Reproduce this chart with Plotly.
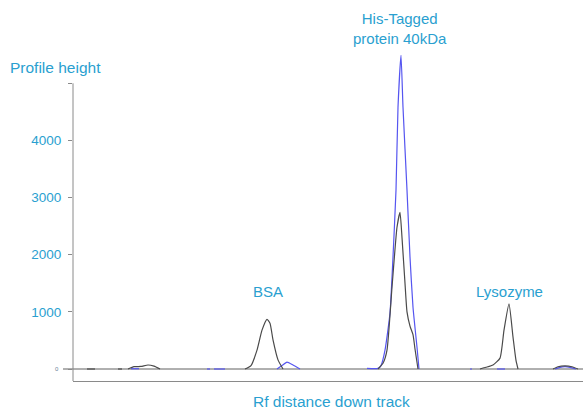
import plotly.graph_objects as go

# Track position (scan units along the lane) and profile height
gray_segments = [
    ([14, 22], [0, 0]),
    ([45, 49], [0, 0]),
    ([55, 61, 68, 75, 81, 87], [0, 40, 45, 70, 50, 0]),
    ([172, 178, 184, 189, 194, 197, 200, 205, 210], [0, 60, 330, 680, 870, 800, 510, 160, 0]),
    ([305, 310, 314, 319, 324, 327, 329, 332, 334, 337, 340, 342, 345],
     [0, 100, 330, 1430, 2480, 2740, 2300, 1500, 1000, 750, 600, 350, 0]),
    ([407, 413, 420, 427, 431, 436, 440, 443, 445], [0, 30, 70, 190, 680, 1140, 560, 150, 0]),
    ([480, 485, 492, 499, 505], [0, 40, 55, 40, 0]),
]
blue_segments = [
    ([58, 66], [5, 5]),
    ([134, 137], [0, 0]),
    ([141, 152], [0, 0]),
    ([204, 209, 214, 220, 227], [0, 60, 120, 70, 0]),
    ([294, 305, 308, 312, 317, 320, 323, 325, 328, 330, 334, 337, 340, 344, 346],
     [10, 10, 60, 330, 980, 1960, 3130, 4580, 5490, 4580, 3130, 1960, 1080, 380, 0]),
    ([397, 399], [0, 0]),
    ([424, 432], [0, 0]),
    ([482, 487, 492, 497, 503], [0, 30, 40, 30, 0]),
]
ytick_vals = [0, 1000, 2000, 3000, 4000, 5000]
ytick_text = ["", "1000", "2000", "3000", "4000", ""]
zero_label = "0"
peak_labels = ["BSA", "His-Tagged<br>protein 40kDa", "Lysozyme"]
peak_x = [195, 327, 436]


def join(segs):
    xs, ys = [], []
    for sx, sy in segs:
        xs += list(sx) + [None]
        ys += list(sy) + [None]
    return xs, ys


BLUE_TXT = "#2A9FD0"
FONT = "Liberation Sans"

fig = go.Figure()
gx, gy = join(gray_segments)
bx, by = join(blue_segments)
fig.add_trace(go.Scatter(x=bx, y=by, mode="lines",
                         line=dict(color="#5555F0", width=1.2, shape="spline", smoothing=0.5),
                         connectgaps=False, showlegend=False, hoverinfo="skip"))
fig.add_trace(go.Scatter(x=gx, y=gy, mode="lines",
                         line=dict(color="#4A4A4A", width=1.2, shape="spline", smoothing=0.5),
                         connectgaps=False, showlegend=False, hoverinfo="skip"))

YMIN, YMAX = -210, 5600
fig.update_layout(
    width=583, height=410,
    margin=dict(l=73, r=0, t=49, b=29),
    paper_bgcolor="white", plot_bgcolor="white",
    font=dict(family=FONT, color=BLUE_TXT, size=12),
    xaxis=dict(range=[0, 510], showgrid=False, zeroline=False, showticklabels=False,
               ticks="", showline=True, linecolor="#8A8A8A", linewidth=1),
    yaxis=dict(range=[YMIN, YMAX], showgrid=False, zeroline=False, showline=False,
               tickvals=ytick_vals, ticktext=ytick_text, ticks="outside", ticklen=4,
               tickcolor="#8A8A8A", tickfont=dict(size=13.5, color=BLUE_TXT, family=FONT),
               ticklabelstandoff=4),
    shapes=[
        dict(type="line", xref="paper", yref="y", x0=0, x1=0, y0=YMIN, y1=5000,
             line=dict(color="#8A8A8A", width=1)),
        dict(type="line", xref="paper", yref="y", x0=-0.0196, x1=1, y0=0, y1=0,
             line=dict(color="#606060", width=1), layer="below"),
    ],
)

fig.add_annotation(text=zero_label, xref="paper", yref="y", x=-0.0235, y=0,
                   xanchor="right", yanchor="middle", showarrow=False,
                   font=dict(size=6, color="#6A7F99", family=FONT))
fig.add_annotation(text="Profile height", xref="paper", yref="paper", x=-0.1275, y=0.943,
                   xanchor="left", yanchor="middle", showarrow=False,
                   font=dict(size=15.5, color=BLUE_TXT, family=FONT))
fig.add_annotation(text="Rf distance down track", xref="paper", yref="paper", x=0.506, y=-0.063,
                   xanchor="center", yanchor="middle", showarrow=False,
                   font=dict(size=15.5, color=BLUE_TXT, family=FONT))
fig.add_annotation(text=peak_labels[0], x=peak_x[0], y=1364, xref="x", yref="y",
                   yanchor="middle", showarrow=False, font=dict(size=15, color=BLUE_TXT, family=FONT))
fig.add_annotation(text=peak_labels[1], x=peak_x[1], xref="x", yref="paper", y=(381 - 28) / 332,
                   yanchor="middle", showarrow=False, font=dict(size=15, color=BLUE_TXT, family=FONT))
fig.add_annotation(text=peak_labels[2], x=peak_x[2], y=1364, xref="x", yref="y",
                   yanchor="middle", showarrow=False, font=dict(size=15, color=BLUE_TXT, family=FONT))

fig.write_html("out.html", config={"displayModeBar": False},
               post_script="document.body.style.margin='0';")
